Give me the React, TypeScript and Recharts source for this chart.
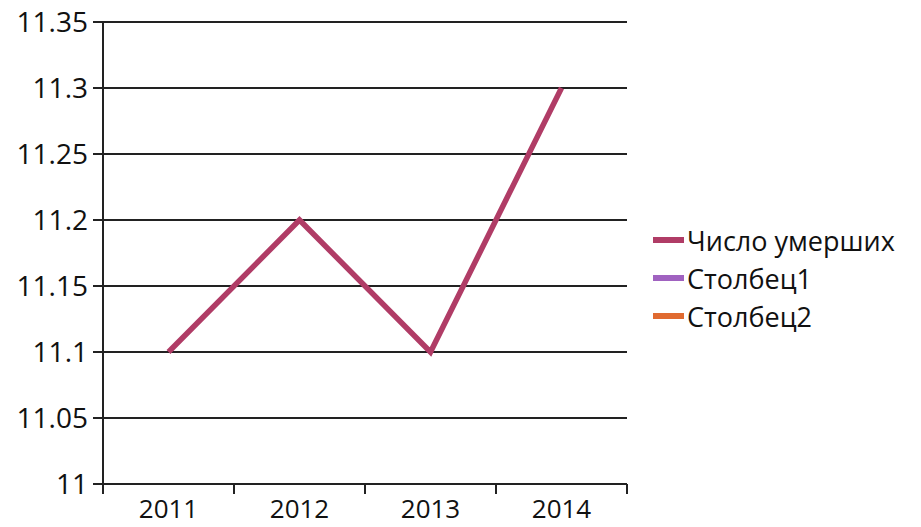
import React from "react";
import {
  LineChart,
  Line,
  XAxis,
  YAxis,
  CartesianGrid,
  Legend,
} from "recharts";

const years = ["2011", "2012", "2013", "2014"];
const deaths = [11.1, 11.2, 11.1, 11.3];
const col1: (number | null)[] = [null, null, null, null];
const col2: (number | null)[] = [null, null, null, null];
const yTicks = [11, 11.05, 11.1, 11.15, 11.2, 11.25, 11.3, 11.35];
const seriesNames = ["Число умерших", "Столбец1", "Столбец2"];

const data = years.map((y, i) => ({
  year: y,
  deaths: deaths[i],
  col1: col1[i],
  col2: col2[i],
}));

const FONT = "'Open Sans', sans-serif";
const BAND = (627 - 103) / years.length;

const XTick = (props: any) => {
  const { x, y, payload, index } = props;
  const top = y;
  return (
    <g>
      <line x1={x - BAND / 2} y1={top} x2={x - BAND / 2} y2={top + 10} stroke="#222" strokeWidth={2} />
      {index === years.length - 1 && (
        <line x1={x + BAND / 2} y1={top} x2={x + BAND / 2} y2={top + 10} stroke="#222" strokeWidth={2} />
      )}
      <text x={x} y={top + 34} textAnchor="middle" fontSize={26} fontFamily={FONT} fill="#111">
        {payload.value}
      </text>
    </g>
  );
};

const LegendBox = (props: any) => {
  const payload = [...(props.payload || [])].sort(
    (a: any, b: any) => seriesNames.indexOf(a.value) - seriesNames.indexOf(b.value)
  );
  return (
    <div style={{ fontFamily: FONT, fontSize: 27, color: "#111" }}>
      {payload.map((p: any) => (
        <div key={p.value} style={{ display: "flex", alignItems: "center", height: 38 }}>
          <span style={{ display: "inline-block", width: 31, height: 6, background: p.color, marginRight: 3 }} />
          <span>{p.value}</span>
        </div>
      ))}
    </div>
  );
};

const App: React.FC = () => {
  return (
    <div style={{ position: "absolute", left: 0, top: 0, background: "#fff" }}>
      <LineChart width={921} height={527} data={data} margin={{ top: 22, right: 294, bottom: 0, left: 0 }}>
        <CartesianGrid vertical={false} stroke="#222" strokeWidth={2} />
        <XAxis
          dataKey="year"
          scale="band"
          height={43}
          axisLine={{ stroke: "#222", strokeWidth: 2 }}
          tickLine={false}
          tickSize={0}
          tickMargin={0}
          tick={<XTick />}
          interval={0}
        />
        <YAxis
          domain={[11, 11.35]}
          ticks={yTicks}
          width={103}
          tickSize={10}
          tickMargin={5}
          axisLine={{ stroke: "#222", strokeWidth: 2 }}
          tickLine={{ stroke: "#222", strokeWidth: 2 }}
          tick={{ fontSize: 28, fontFamily: FONT, fill: "#111" }}
          interval={0}
        />
        <Legend
          layout="horizontal"
          verticalAlign="middle"
          align="center"
          content={<LegendBox />}
          wrapperStyle={{ left: 653, top: 221, width: 268 }}
        />
        <Line
          dataKey="deaths"
          name="Число умерших"
          stroke="#b03c66"
          strokeWidth={5.5}
          dot={false}
          isAnimationActive={false}
        />
        <Line dataKey="col1" name="Столбец1" stroke="#a062c0" strokeWidth={5} dot={false} isAnimationActive={false} />
        <Line dataKey="col2" name="Столбец2" stroke="#e06a30" strokeWidth={5} dot={false} isAnimationActive={false} />
      </LineChart>
    </div>
  );
};

export default App;
